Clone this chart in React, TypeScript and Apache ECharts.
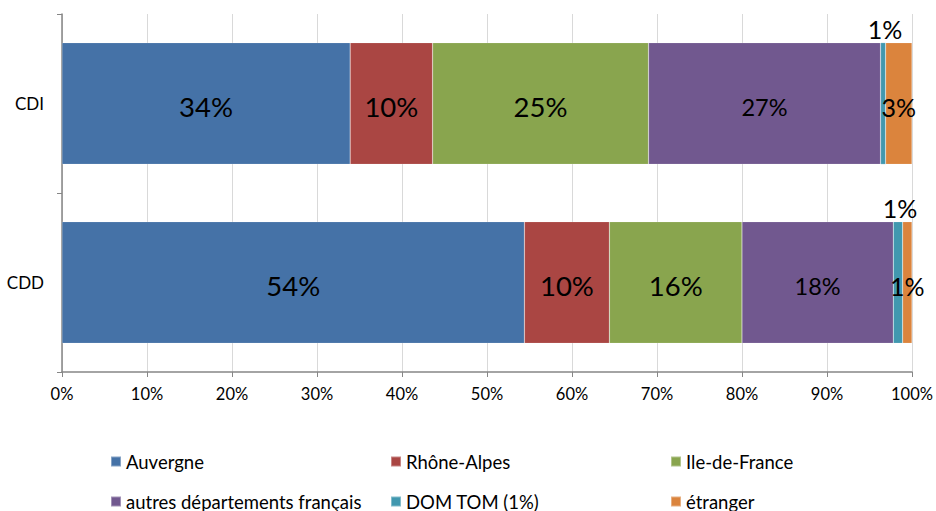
import React, { useEffect, useRef } from "react";
import * as echarts from "echarts";

const categories = ["CDI", "CDD"];
const seriesNames = [
  "Auvergne",
  "Rhône-Alpes",
  "Ile-de-France",
  "autres départements français",
  "DOM TOM (1%)",
  "étranger",
];
const auvergne = [33.9, 54.4];
const rhoneAlpes = [9.7, 10.0];
const ileDeFrance = [25.4, 15.6];
const autres = [27.3, 17.8];
const domTom = [0.6, 1.1];
const etranger = [3.1, 1.1];
const colors = ["#4572A7", "#AA4643", "#89A54E", "#71588F", "#4198AF", "#DB843D"];
const xTicks = [0, 10, 20, 30, 40, 50, 60, 70, 80, 90, 100];

const FONT = "Lato, 'Open Sans', sans-serif";

export default function App() {
  const ref = useRef<HTMLDivElement>(null);
  useEffect(() => {
    if (!ref.current) return;
    const chart = echarts.init(ref.current, null, { renderer: "svg" });
    const values = [auvergne, rhoneAlpes, ileDeFrance, autres, domTom, etranger];
    const fontSizes = [27.5, 27.5, 27.5, 23.5, 25, 25];
    const series = seriesNames.map((name, i) => ({
      name,
      type: "bar",
      stack: "total",
      barCategoryGap: "32%",
      data: values[i],
      itemStyle: { color: colors[i], borderColor: "rgba(255,255,255,0.35)", borderWidth: 0.5 },
      label: {
        show: true,
        position: i === 4 ? "top" : "inside",
        distance: 1,
        offset: i === 4 ? [2, 0] : [0, 3],
        color: "#000",
        fontFamily: FONT,
        fontSize: fontSizes[i],
        formatter: (p: any) => Math.round(p.value) + "%",
      },
    }));
    const legendPos = [
      [110, 452],
      [390, 452],
      [670, 452],
      [110, 492],
      [390, 492],
      [670, 492],
    ];
    const legend = seriesNames.map((name, i) => ({
      data: [name],
      left: legendPos[i][0],
      top: legendPos[i][1],
      padding: 0,
      icon: "rect",
      itemWidth: 10,
      itemHeight: 10,
      selectedMode: false,
      textStyle: { fontSize: 18.5, color: "#000", fontFamily: FONT },
    }));
    chart.setOption({
      animation: false,
      textStyle: { fontFamily: FONT },
      grid: { left: 62, right: 24, top: 14, bottom: 139, containLabel: false },
      xAxis: {
        type: "value",
        min: xTicks[0],
        max: xTicks[xTicks.length - 1],
        interval: 10,
        axisLine: { show: true, lineStyle: { color: "#868686", width: 1.5 } },
        axisTick: { show: true, length: 5, lineStyle: { color: "#868686" } },
        splitLine: { show: true, lineStyle: { color: "#d9d9d9", width: 1 } },
        axisLabel: {
          color: "#000",
          fontSize: 16.5,
          fontFamily: FONT,
          margin: 13,
          formatter: (v: number) => v + "%",
        },
      },
      yAxis: {
        type: "category",
        data: categories,
        inverse: true,
        axisLine: { show: true, lineStyle: { color: "#868686", width: 1.5 } },
        axisTick: { show: true, length: 5, lineStyle: { color: "#868686" } },
        axisLabel: { color: "#000", fontSize: 17, fontFamily: FONT, margin: 18 },
      },
      legend,
      series,
    });
    return () => chart.dispose();
  }, []);
  return <div ref={ref} style={{ width: 936, height: 511, position: "absolute", left: 0, top: 0 }} />;
}
